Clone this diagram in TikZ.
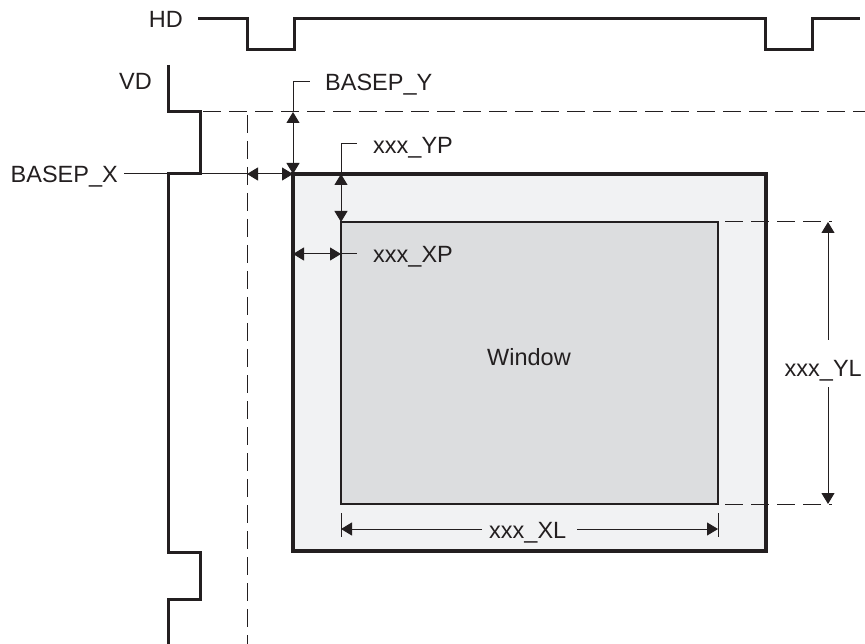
\documentclass[tikz,border=0pt]{standalone}
\usepackage{fontspec}
\setmainfont{Liberation Sans}
\usetikzlibrary{arrows.meta}
\definecolor{ink}{HTML}{231F20}
\definecolor{outerfill}{HTML}{F1F2F3}
\definecolor{innerfill}{HTML}{DCDDDF}
\begin{document}
\begin{tikzpicture}[x=1pt,y=-1pt,
  lbl/.style={font=\fontsize{23.5}{28}\selectfont, text=ink, inner sep=0pt},
  sig/.style={line width=3pt, draw=ink, line join=miter},
  thinl/.style={line width=1pt, draw=ink},
  dashl/.style={line width=1pt, draw=ink, dash pattern=on 18pt off 8pt},
  dim/.style={thinl, {Triangle[length=11pt,width=13pt]}-{Triangle[length=11pt,width=13pt]}},
  tipl/.style={thinl, -{Triangle[length=11pt,width=13pt]}}]
\useasboundingbox (0,0) rectangle (865,644);
% key coordinates
\coordinate (o1) at (293,174);
\coordinate (o2) at (766,551);
\coordinate (i1) at (341,222);
\coordinate (i2) at (718,504);
% rectangles
\draw[fill=outerfill, draw=ink, line width=3.5pt] (o1) rectangle (o2);
\draw[fill=innerfill, draw=ink, line width=2.2pt] (i1) rectangle (i2);
% dashed reference lines
\draw[dashl] (203,112) -- (865,112);
\draw[dashl] (247,115) -- (247,644);
\draw[dashl] (725,222) -- (832,222);
\draw[dashl] (725,504) -- (832,504);
% HD signal
\node[lbl, anchor=base east] (hd) at (183,28) {HD};
\draw[sig] (198,19) -- (247,19) -- (247,50) -- (294,50) -- (294,19) -- (765,19) -- (765,50) -- (812,50) -- (812,19) -- (860,19);
% VD signal
\node[lbl, anchor=base east] (vd) at (152,90) {VD};
\draw[sig] (168,65) -- (168,112) -- (200,112) -- (200,174) -- (168,174) -- (168,552) -- (200,552) -- (200,599) -- (168,599) -- (168,644);
% BASEP_X
\node[lbl, anchor=base east] (bx) at (118,183) {BASEP\_X};
\coordinate (bxa) at (247,174);
\draw[thinl] (bx.east |- bxa) ++(6,0) -- (bxa);
\draw[dim] (bxa) -- (o1);
% BASEP_Y
\coordinate (bya) at (293,112);
\coordinate (byl) at (293,82);
\node[lbl, anchor=base west] (by) at (325,91) {BASEP\_Y};
\draw[dim] (bya) -- (o1);
\draw[thinl] (bya) -- (byl) -- ++(17,0);
% xxx_YP
\coordinate (ypa) at (341,174);
\node[lbl, anchor=base west] (yp) at (373,154) {xxx\_YP};
\draw[dim] (ypa) -- (i1);
\draw[thinl] (ypa) -- (341,144) -- (357,144);
% xxx_XP
\coordinate (xpa) at (293,254);
\coordinate (xpb) at (341,254);
\node[lbl, anchor=base west] (xp) at (373,263) {xxx\_XP};
\draw[dim] (xpa) -- (xpb);
\draw[thinl] (xpb) -- (357,254);
% Window
\node[lbl, anchor=base west] (win) at (487,366) {Window};
% xxx_YL
\node[lbl, anchor=base east] (yl) at (862,376) {xxx\_YL};
\coordinate (ylt) at (828,222);
\coordinate (ylb) at (828,504);
\draw[tipl] (828,340) -- (ylt);
\draw[tipl] (828,387) -- (ylb);
% xxx_XL
\node[lbl, anchor=base west] (xl) at (489,538) {xxx\_XL};
\coordinate (xll) at (341,529);
\coordinate (xlr) at (718,529);
\draw[tipl] (482,529) -- (xll);
\draw[tipl] (577,529) -- (xlr);
\draw[thinl] (341,513) -- (341,537);
\draw[thinl] (718,513) -- (718,537);
\end{tikzpicture}
\end{document}
